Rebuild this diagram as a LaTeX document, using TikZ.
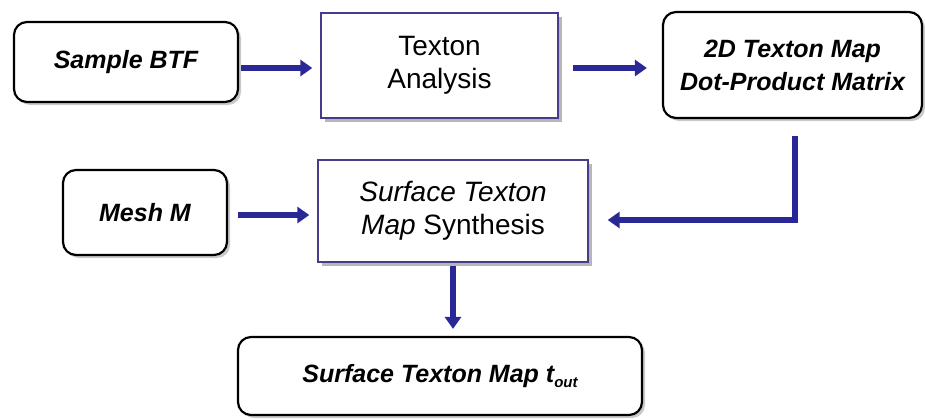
\documentclass[tikz,border=0pt]{standalone}
\usepackage{fontspec}
\setmainfont{Liberation Sans}
\usetikzlibrary{arrows.meta,shadows}
\definecolor{arrblue}{RGB}{42,40,150}
\definecolor{boxblue}{RGB}{70,60,140}
\begin{document}
\begin{tikzpicture}[x=1pt,y=-1pt,
  rbox/.style={draw=black,line width=2.2pt,rounded corners=13pt,fill=white,
    align=center,inner sep=0pt,
    font=\fontsize{25}{33}\selectfont\bfseries\itshape,
    drop shadow={shadow xshift=3pt,shadow yshift=-3pt,fill=black!35,opacity=0.6}},
  sbox/.style={draw=boxblue,line width=1.4pt,fill=white,align=center,inner sep=0pt,
    font=\fontsize{28}{33}\selectfont,
    drop shadow={shadow xshift=4pt,shadow yshift=-4pt,fill=black!40,opacity=0.7}},
  arr/.style={draw=arrblue,line width=6pt,-{Triangle[width=16pt,length=12pt]}}]
\useasboundingbox (0,0) rectangle (925,418);
\node[rbox,minimum width=224pt,minimum height=80pt] (sample) at (126,62) {Sample BTF};
\node[sbox,minimum width=237pt,minimum height=105pt] (texton) at (439.5,65.5) {Texton\\Analysis};
\node[rbox,minimum width=259pt,minimum height=106pt] (twod) at (792.5,65) {2D Texton Map\\Dot-Product Matrix};
\node[rbox,minimum width=164pt,minimum height=85pt] (mesh) at (145,212.5) {Mesh M};
\node[sbox,minimum width=270pt,minimum height=102pt] (synth) at (453,211) {\itshape Surface Texton\\{\itshape Map} Synthesis};
\node[rbox,minimum width=404pt,minimum height=78pt] (final) at (440,376) {Surface Texton Map t{\fontsize{15}{15}\selectfont\raisebox{-5pt}{out}}};
\coordinate (dtip) at (synth.south |- final.north);
\draw[arr] ([shift={(2,6)}]sample.east) -- ([shift={(-8,2.5)}]texton.west);
\draw[arr] ([shift={(14,2.5)}]texton.east) -- ([shift={(-15,3)}]twod.west);
\draw[arr] ([shift={(2.5,17)}]twod.south) |- ([shift={(19,9)}]synth.east);
\draw[arr] ([shift={(10,2.5)}]mesh.east) -- ([shift={(-8,4)}]synth.west);
\draw[arr] ([shift={(0,3)}]synth.south) -- ([shift={(0,-7)}]dtip);
\end{tikzpicture}
\end{document}
